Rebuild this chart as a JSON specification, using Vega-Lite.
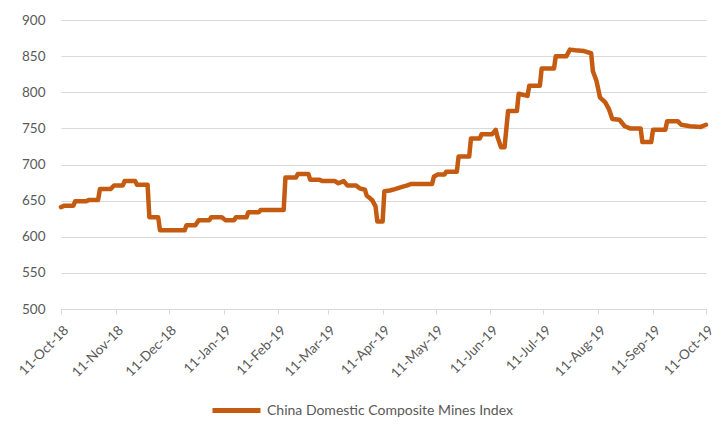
{
  "$schema": "https://vega.github.io/schema/vega-lite/v6.json",
  "width": 645,
  "height": 289,
  "autosize": {"type": "none"},
  "padding": {"left": 61, "top": 20, "right": 18, "bottom": 116},
  "background": "white",
  "config": {
    "view": {"stroke": null},
    "font": "Lato",
    "axis": {"labelFont": "Lato", "labelColor": "#595959", "labelFontSize": 13}
  },
  "data": {
    "values": [
      {"date": "2018-10-11", "index": 641, "series": "China Domestic Composite Mines Index"},
      {"date": "2018-10-13", "index": 643, "series": "China Domestic Composite Mines Index"},
      {"date": "2018-10-18", "index": 643, "series": "China Domestic Composite Mines Index"},
      {"date": "2018-10-19", "index": 649, "series": "China Domestic Composite Mines Index"},
      {"date": "2018-10-25", "index": 649, "series": "China Domestic Composite Mines Index"},
      {"date": "2018-10-27", "index": 651, "series": "China Domestic Composite Mines Index"},
      {"date": "2018-11-01", "index": 651, "series": "China Domestic Composite Mines Index"},
      {"date": "2018-11-02", "index": 666, "series": "China Domestic Composite Mines Index"},
      {"date": "2018-11-08", "index": 666, "series": "China Domestic Composite Mines Index"},
      {"date": "2018-11-10", "index": 671, "series": "China Domestic Composite Mines Index"},
      {"date": "2018-11-15", "index": 671, "series": "China Domestic Composite Mines Index"},
      {"date": "2018-11-16", "index": 677, "series": "China Domestic Composite Mines Index"},
      {"date": "2018-11-22", "index": 677, "series": "China Domestic Composite Mines Index"},
      {"date": "2018-11-23", "index": 672, "series": "China Domestic Composite Mines Index"},
      {"date": "2018-11-29", "index": 672, "series": "China Domestic Composite Mines Index"},
      {"date": "2018-11-30", "index": 627, "series": "China Domestic Composite Mines Index"},
      {"date": "2018-12-05", "index": 627, "series": "China Domestic Composite Mines Index"},
      {"date": "2018-12-06", "index": 609, "series": "China Domestic Composite Mines Index"},
      {"date": "2018-12-20", "index": 609, "series": "China Domestic Composite Mines Index"},
      {"date": "2018-12-21", "index": 616, "series": "China Domestic Composite Mines Index"},
      {"date": "2018-12-26", "index": 616, "series": "China Domestic Composite Mines Index"},
      {"date": "2018-12-28", "index": 623, "series": "China Domestic Composite Mines Index"},
      {"date": "2019-01-03", "index": 623, "series": "China Domestic Composite Mines Index"},
      {"date": "2019-01-04", "index": 627, "series": "China Domestic Composite Mines Index"},
      {"date": "2019-01-10", "index": 627, "series": "China Domestic Composite Mines Index"},
      {"date": "2019-01-12", "index": 623, "series": "China Domestic Composite Mines Index"},
      {"date": "2019-01-17", "index": 623, "series": "China Domestic Composite Mines Index"},
      {"date": "2019-01-18", "index": 627, "series": "China Domestic Composite Mines Index"},
      {"date": "2019-01-24", "index": 627, "series": "China Domestic Composite Mines Index"},
      {"date": "2019-01-25", "index": 634, "series": "China Domestic Composite Mines Index"},
      {"date": "2019-01-31", "index": 634, "series": "China Domestic Composite Mines Index"},
      {"date": "2019-02-01", "index": 637, "series": "China Domestic Composite Mines Index"},
      {"date": "2019-02-14", "index": 637, "series": "China Domestic Composite Mines Index"},
      {"date": "2019-02-15", "index": 682, "series": "China Domestic Composite Mines Index"},
      {"date": "2019-02-21", "index": 682, "series": "China Domestic Composite Mines Index"},
      {"date": "2019-02-22", "index": 687, "series": "China Domestic Composite Mines Index"},
      {"date": "2019-02-28", "index": 687, "series": "China Domestic Composite Mines Index"},
      {"date": "2019-03-01", "index": 679, "series": "China Domestic Composite Mines Index"},
      {"date": "2019-03-06", "index": 679, "series": "China Domestic Composite Mines Index"},
      {"date": "2019-03-08", "index": 677, "series": "China Domestic Composite Mines Index"},
      {"date": "2019-03-15", "index": 677, "series": "China Domestic Composite Mines Index"},
      {"date": "2019-03-17", "index": 674, "series": "China Domestic Composite Mines Index"},
      {"date": "2019-03-20", "index": 677, "series": "China Domestic Composite Mines Index"},
      {"date": "2019-03-22", "index": 671, "series": "China Domestic Composite Mines Index"},
      {"date": "2019-03-27", "index": 671, "series": "China Domestic Composite Mines Index"},
      {"date": "2019-03-29", "index": 667, "series": "China Domestic Composite Mines Index"},
      {"date": "2019-04-01", "index": 665, "series": "China Domestic Composite Mines Index"},
      {"date": "2019-04-02", "index": 657, "series": "China Domestic Composite Mines Index"},
      {"date": "2019-04-05", "index": 651, "series": "China Domestic Composite Mines Index"},
      {"date": "2019-04-07", "index": 642, "series": "China Domestic Composite Mines Index"},
      {"date": "2019-04-08", "index": 621, "series": "China Domestic Composite Mines Index"},
      {"date": "2019-04-11", "index": 621, "series": "China Domestic Composite Mines Index"},
      {"date": "2019-04-12", "index": 663, "series": "China Domestic Composite Mines Index"},
      {"date": "2019-04-15", "index": 664, "series": "China Domestic Composite Mines Index"},
      {"date": "2019-04-18", "index": 666, "series": "China Domestic Composite Mines Index"},
      {"date": "2019-04-22", "index": 669, "series": "China Domestic Composite Mines Index"},
      {"date": "2019-04-25", "index": 671, "series": "China Domestic Composite Mines Index"},
      {"date": "2019-04-27", "index": 673, "series": "China Domestic Composite Mines Index"},
      {"date": "2019-05-09", "index": 673, "series": "China Domestic Composite Mines Index"},
      {"date": "2019-05-10", "index": 683, "series": "China Domestic Composite Mines Index"},
      {"date": "2019-05-12", "index": 686, "series": "China Domestic Composite Mines Index"},
      {"date": "2019-05-16", "index": 686, "series": "China Domestic Composite Mines Index"},
      {"date": "2019-05-17", "index": 690, "series": "China Domestic Composite Mines Index"},
      {"date": "2019-05-23", "index": 690, "series": "China Domestic Composite Mines Index"},
      {"date": "2019-05-24", "index": 711, "series": "China Domestic Composite Mines Index"},
      {"date": "2019-05-30", "index": 711, "series": "China Domestic Composite Mines Index"},
      {"date": "2019-05-31", "index": 736, "series": "China Domestic Composite Mines Index"},
      {"date": "2019-06-05", "index": 736, "series": "China Domestic Composite Mines Index"},
      {"date": "2019-06-06", "index": 742, "series": "China Domestic Composite Mines Index"},
      {"date": "2019-06-12", "index": 742, "series": "China Domestic Composite Mines Index"},
      {"date": "2019-06-14", "index": 748, "series": "China Domestic Composite Mines Index"},
      {"date": "2019-06-15", "index": 738, "series": "China Domestic Composite Mines Index"},
      {"date": "2019-06-17", "index": 724, "series": "China Domestic Composite Mines Index"},
      {"date": "2019-06-19", "index": 724, "series": "China Domestic Composite Mines Index"},
      {"date": "2019-06-21", "index": 774, "series": "China Domestic Composite Mines Index"},
      {"date": "2019-06-26", "index": 774, "series": "China Domestic Composite Mines Index"},
      {"date": "2019-06-27", "index": 798, "series": "China Domestic Composite Mines Index"},
      {"date": "2019-07-02", "index": 795, "series": "China Domestic Composite Mines Index"},
      {"date": "2019-07-03", "index": 809, "series": "China Domestic Composite Mines Index"},
      {"date": "2019-07-09", "index": 809, "series": "China Domestic Composite Mines Index"},
      {"date": "2019-07-10", "index": 833, "series": "China Domestic Composite Mines Index"},
      {"date": "2019-07-17", "index": 833, "series": "China Domestic Composite Mines Index"},
      {"date": "2019-07-18", "index": 850, "series": "China Domestic Composite Mines Index"},
      {"date": "2019-07-24", "index": 850, "series": "China Domestic Composite Mines Index"},
      {"date": "2019-07-26", "index": 859, "series": "China Domestic Composite Mines Index"},
      {"date": "2019-07-29", "index": 858, "series": "China Domestic Composite Mines Index"},
      {"date": "2019-08-03", "index": 857, "series": "China Domestic Composite Mines Index"},
      {"date": "2019-08-07", "index": 854, "series": "China Domestic Composite Mines Index"},
      {"date": "2019-08-08", "index": 829, "series": "China Domestic Composite Mines Index"},
      {"date": "2019-08-10", "index": 816, "series": "China Domestic Composite Mines Index"},
      {"date": "2019-08-12", "index": 793, "series": "China Domestic Composite Mines Index"},
      {"date": "2019-08-15", "index": 786, "series": "China Domestic Composite Mines Index"},
      {"date": "2019-08-17", "index": 777, "series": "China Domestic Composite Mines Index"},
      {"date": "2019-08-19", "index": 763, "series": "China Domestic Composite Mines Index"},
      {"date": "2019-08-23", "index": 762, "series": "China Domestic Composite Mines Index"},
      {"date": "2019-08-26", "index": 753, "series": "China Domestic Composite Mines Index"},
      {"date": "2019-08-29", "index": 750, "series": "China Domestic Composite Mines Index"},
      {"date": "2019-09-04", "index": 750, "series": "China Domestic Composite Mines Index"},
      {"date": "2019-09-05", "index": 731, "series": "China Domestic Composite Mines Index"},
      {"date": "2019-09-10", "index": 731, "series": "China Domestic Composite Mines Index"},
      {"date": "2019-09-11", "index": 748, "series": "China Domestic Composite Mines Index"},
      {"date": "2019-09-18", "index": 748, "series": "China Domestic Composite Mines Index"},
      {"date": "2019-09-19", "index": 760, "series": "China Domestic Composite Mines Index"},
      {"date": "2019-09-25", "index": 760, "series": "China Domestic Composite Mines Index"},
      {"date": "2019-09-27", "index": 755, "series": "China Domestic Composite Mines Index"},
      {"date": "2019-10-02", "index": 753, "series": "China Domestic Composite Mines Index"},
      {"date": "2019-10-08", "index": 752, "series": "China Domestic Composite Mines Index"},
      {"date": "2019-10-11", "index": 755, "series": "China Domestic Composite Mines Index"}
    ]
  },
  "mark": {"type": "line", "strokeWidth": 4.5, "strokeJoin": "round", "strokeCap": "round"},
  "encoding": {
    "x": {
      "field": "date",
      "type": "temporal",
      "scale": {
        "type": "utc",
        "domain": [
          {"year": 2018, "month": "oct", "date": 11, "utc": true},
          {"year": 2019, "month": "oct", "date": 11, "utc": true}
        ]
      },
      "axis": {
        "title": null,
        "format": "%d-%b-%y",
        "values": [
          {"year": 2018, "month": "oct", "date": 11, "utc": true},
          {"year": 2018, "month": "nov", "date": 11, "utc": true},
          {"year": 2018, "month": "dec", "date": 11, "utc": true},
          {"year": 2019, "month": "jan", "date": 11, "utc": true},
          {"year": 2019, "month": "feb", "date": 11, "utc": true},
          {"year": 2019, "month": "mar", "date": 11, "utc": true},
          {"year": 2019, "month": "apr", "date": 11, "utc": true},
          {"year": 2019, "month": "may", "date": 11, "utc": true},
          {"year": 2019, "month": "jun", "date": 11, "utc": true},
          {"year": 2019, "month": "jul", "date": 11, "utc": true},
          {"year": 2019, "month": "aug", "date": 11, "utc": true},
          {"year": 2019, "month": "sep", "date": 11, "utc": true},
          {"year": 2019, "month": "oct", "date": 11, "utc": true}
        ],
        "labelAngle": -45,
        "labelAlign": "right",
        "labelBaseline": "top",
        "labelOverlap": false,
        "labelBound": false,
        "labelFlush": false,
        "labelPadding": 9,
        "labelFontSize": 13.5,
        "grid": false,
        "domainColor": "#d9d9d9",
        "tickColor": "#d9d9d9",
        "tickSize": 5
      }
    },
    "y": {
      "field": "index",
      "type": "quantitative",
      "scale": {"domain": [500, 900], "nice": false, "zero": false},
      "axis": {
        "title": null,
        "values": [500, 550, 600, 650, 700, 750, 800, 850, 900],
        "domain": false,
        "ticks": false,
        "labelPadding": 16,
        "labelFontSize": 13.5,
        "gridColor": "#d9d9d9",
        "gridWidth": 1
      }
    },
    "color": {
      "field": "series",
      "type": "nominal",
      "scale": {"range": ["#C55A11"]},
      "legend": {
        "title": null,
        "orient": "none",
        "legendX": 149,
        "legendY": 364,
        "symbolType": "stroke",
        "symbolSize": 2304,
        "symbolStrokeWidth": 5,
        "labelFont": "Lato",
        "labelFontSize": 14,
        "labelLimit": 400,
        "labelColor": "#595959",
        "labelOffset": 4
      }
    }
  }
}
